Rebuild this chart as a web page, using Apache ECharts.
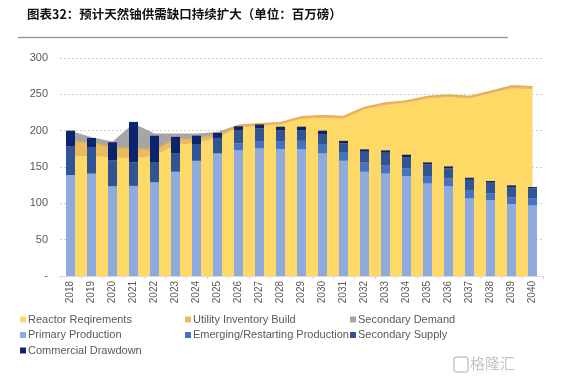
<!DOCTYPE html>
<html>
<head>
<meta charset="utf-8">
<script src="https://cdn.jsdelivr.net/npm/echarts@6/dist/echarts.min.js"></script>
<style>
html,body{margin:0;padding:0;background:#fff;}
#c{width:563px;height:379px;}
</style>
</head>
<body>
<div id="c"></div>
<script>
var years = ['2018','2019','2020','2021','2022','2023','2024','2025','2026','2027','2028','2029','2030','2031','2032','2033','2034','2035','2036','2037','2038','2039','2040'];
var yTicks = [0, 50, 100, 150, 200, 250, 300];

// Demand (stacked areas)
var reactorRequirements = [164,165,163,162,165,180,183,190,204,206,208,216,217,216,229,235,238,244,246,244,251,258,257];
var utilityInventoryBuild = [21,18,14,13,9,8,6,4,3,3.5,3,3,3.5,3.5,3,3,3,3,3,3,3,3.5,3.5];
var secondaryDemand = [15,8,8,35,22,8,7,4,1,0.5,0.5,0.5,0.5,0.5,0.5,0.5,0.5,0.5,0.5,0.5,0.5,0.5,0.5];

// Supply (stacked bars)
var primaryProduction = [139,141,123.5,124,129,143.5,158.6,168.7,173.3,175.6,174.7,174.7,168.7,158.6,143.5,141,137.5,127.5,123.8,106.8,104.5,99,97.2];
var emergingProduction = [0,0,0,0,0,0,0,0,9.2,10,11,11.3,12.9,11,12.5,11,10.5,10,10.5,10.6,9.3,9.2,9.2];
var secondarySupply = [39,36.5,35.5,32.4,27,25,23,21.3,17.5,17.4,15,14.8,13.7,12.9,15,17.6,15.2,16.1,13.7,15,14.6,14.2,14.2];
var commercialDrawdown = [22,12.5,25,55.6,37,23,11.5,7,6,5.5,4.8,4.7,4.7,3.5,3.3,3.3,3.7,2.7,2.8,2.8,2.3,2.3,1.8];

var names = ['Reactor Reqirements','Utility Inventory Build','Secondary Demand','Primary Production','Emerging/Restarting Production','Secondary Supply','Commercial Drawdown'];
var colors = ['#FFD966','#EDBB5F','#A6A6A6','#8FAADC','#4472C4','#2F5597','#0B2470'];

var chart = echarts.init(document.getElementById('c'), null, {renderer:'canvas'});
var font = 'Liberation Sans, Arial, sans-serif';

function areaSeries(i, data){
  return {
    name: names[i], type:'line', stack:'demand', data:data,
    symbol:'none', smooth:false,
    lineStyle:{width: i===1 ? 1.5 : 0, color: i===1 ? '#E6B055' : colors[i]},
    areaStyle:{color:colors[i], opacity:1},
    itemStyle:{color:colors[i]},
    z:1
  };
}
function barSeries(i, data){
  return {
    name: names[i], type:'bar', stack:'supply', data:data,
    barWidth:9, itemStyle:{color:colors[i]}, z:3
  };
}
var legendCommon = {
  orient:'vertical', icon:'rect', itemWidth:6, itemHeight:6, itemGap:4.5,
  textStyle:{fontSize:11, color:'#595959', fontFamily:font, padding:[0,0,0,-3]},
  padding:0
};

chart.setOption({
  animation:false,
  backgroundColor:'#fff',
  grid:{left:60, right:20, top:58, bottom:103, containLabel:false},
  legend:[
    Object.assign({left:20, top:314, data:[names[0],names[3],names[6]]}, legendCommon),
    Object.assign({left:185, top:314, data:[names[1],names[4]]}, legendCommon),
    Object.assign({left:350, top:314, data:[names[2],names[5]]}, legendCommon)
  ],
  xAxis:{
    type:'category', data:years, boundaryGap:true,
    axisLine:{lineStyle:{color:'#D9D9D9'}},
    axisTick:{show:true, length:3, lineStyle:{color:'#D9D9D9'}},
    axisLabel:{rotate:90, fontSize:10, color:'#595959', fontFamily:font, margin:5}
  },
  yAxis:{
    type:'value', min:yTicks[0], max:yTicks[yTicks.length-1], interval:50,
    axisLine:{show:false}, axisTick:{show:false},
    axisLabel:{fontSize:11, color:'#595959', fontFamily:font, margin:12,
      formatter:function(v){ return v===0 ? '-' : String(v); }},
    splitLine:{lineStyle:{color:'#D0D0D0', type:[2,2]}}
  },
  graphic:[
    {type:'text', left:27, top:8, style:{text:'图表32：预计天然铀供需缺口持续扩大（单位：百万磅）', font:'bold 12.5px "Noto Sans CJK SC", sans-serif', fill:'#111'}},
    {type:'line', shape:{x1:18, y1:37.5, x2:508, y2:37.5}, style:{stroke:'#9A9A9A', lineWidth:1.5}},
    {type:'rect', shape:{x:454, y:357, width:14, height:15, r:3}, style:{fill:'none', stroke:'#C8C8C8', lineWidth:1.5}},
    {type:'text', left:470, top:356, style:{text:'格隆汇', font:'15px "Noto Sans CJK SC", sans-serif', fill:'#C4C4C4'}}
  ],
  series:[
    areaSeries(0, reactorRequirements),
    areaSeries(1, utilityInventoryBuild),
    areaSeries(2, secondaryDemand),
    barSeries(3, primaryProduction),
    barSeries(4, emergingProduction),
    barSeries(5, secondarySupply),
    barSeries(6, commercialDrawdown)
  ]
});
</script>
</body>
</html>
